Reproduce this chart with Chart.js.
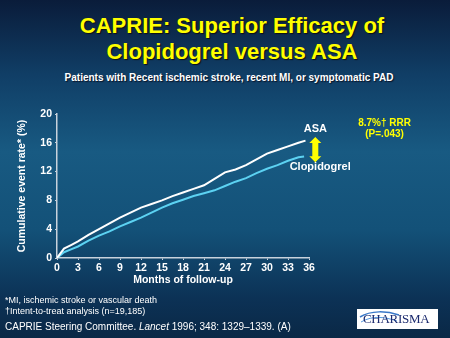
<!DOCTYPE html>
<html>
<head>
<meta charset="utf-8">
<script src="https://cdn.jsdelivr.net/npm/chart.js@4/dist/chart.umd.min.js"></script>
<style>
    html, body { margin: 0; padding: 0; }
    body {
        width: 450px; height: 338px; overflow: hidden; position: relative;
        font-family: "Liberation Sans", Arial, sans-serif;
        background: linear-gradient(to bottom, #0a1c3a 0%, #103e66 22%, #185a82 45%, #135178 68%, #0c3256 88%, #0a2846 100%);
    }
    .t { position: absolute; white-space: nowrap; }
    #title { left: 0; width: 464px; top: 13px; text-align: center; color: #ffff00; font-weight: bold; font-size: 22px; line-height: 26px; text-shadow: 1px 1px 1px #101010; }
    #sub { left: 0; width: 458px; top: 72px; text-align: center; color: #ffffff; font-weight: bold; font-size: 10px; text-shadow: 1px 1px 1px #0a1428; }
    #fn1 { left: 5px; top: 295px; color: #ffffff; font-size: 9px; }
    #fn2 { left: 5px; top: 306px; color: #ffffff; font-size: 9px; }
    #ref { left: 5px; top: 321px; color: #ffffff; font-size: 10px; }
    #logo { left: 357px; top: 309px; width: 81px; height: 20px; background: #ffffff; overflow: hidden; }
    #logo span { position: absolute; left: 6px; top: 2px; font-family: "Liberation Serif", serif; font-size: 13px; color: #1b2a6e; letter-spacing: -0.3px; }
    #chart { position: absolute; left: 0; top: 0; }
</style>
</head>
<body>
<div class="t" id="title">CAPRIE: Superior Efficacy of<br>Clopidogrel versus ASA</div>
<div class="t" id="sub">Patients with Recent ischemic stroke, recent MI, or symptomatic PAD</div>
<canvas id="chart" width="450" height="338"></canvas>
<div class="t" id="fn1">*MI, ischemic stroke or vascular death</div>
<div class="t" id="fn2">†Intent-to-treat analysis (n=19,185)</div>
<div class="t" id="ref">CAPRIE Steering Committee. <i>Lancet</i> 1996; 348: 1329–1339. (A)</div>
<div class="t" id="logo">
    <svg width="81" height="20" style="position:absolute;left:0;top:0">
        <path d="M3 8 C 14 1, 30 2, 42 6" stroke="#3a78c8" stroke-width="1.5" fill="none"/>
        <path d="M4 13 C 16 6, 28 8, 40 12" stroke="#5a9ae0" stroke-width="1" fill="none"/>
    </svg>
    <span>CHARISMA</span>
</div>
<script>
    // months of follow-up
    const asaMonths = [0, 1, 2, 3, 4.5, 6, 7.5, 9, 10.5, 12, 13.5, 15, 16.5, 18, 19.5, 21, 22.5, 24, 25.5, 27, 28.5, 30, 31.5, 33, 34.5, 35.5];
    const asaRate = [0, 1.3, 1.8, 2.3, 3.2, 4.0, 4.8, 5.6, 6.3, 7.0, 7.5, 8.0, 8.6, 9.1, 9.6, 10.1, 11.0, 11.9, 12.3, 12.9, 13.7, 14.5, 15.0, 15.5, 16.0, 16.3];
    const clopMonths = [0, 1, 2, 3, 4.5, 6, 7.5, 9, 10.5, 12, 13.5, 15, 16.5, 18, 19.5, 21, 22.5, 24, 25.5, 27, 28.5, 30, 31.5, 33, 34.5, 35.3];
    const clopRate = [0, 0.8, 1.2, 1.6, 2.4, 3.1, 3.7, 4.4, 5.0, 5.6, 6.3, 7.0, 7.6, 8.1, 8.6, 9.0, 9.4, 10.0, 10.6, 11.1, 11.8, 12.4, 12.9, 13.5, 14.0, 14.1];
    const xTicks = [0, 3, 6, 9, 12, 15, 18, 21, 24, 27, 30, 33, 36];
    const yTicks = [0, 4, 8, 12, 16, 20];

    const toPoints = (xs, ys) => xs.map((x, i) => ({ x: x, y: ys[i] }));

    // labels and the yellow arrow next to the line ends
    const notes = {
        id: 'notes',
        afterDraw(chart) {
            const c = chart.ctx;
            const xs = chart.scales.x, ys = chart.scales.y;
            c.save();
            c.textAlign = 'center';
            c.textBaseline = 'middle';
            c.font = 'bold 11px "Liberation Sans", Arial, sans-serif';
            c.fillStyle = '#ffffff';
            c.fillText('ASA', xs.getPixelForValue(36.9), ys.getPixelForValue(17.9));
            c.fillText('Clopidogrel', xs.getPixelForValue(37.6), ys.getPixelForValue(12.6));

            c.fillStyle = '#ffff00';
            c.font = 'bold 10px "Liberation Sans", Arial, sans-serif';
            c.fillText('8.7%† RRR', xs.getPixelForValue(46.8), ys.getPixelForValue(18.75));
            c.fillText('(P=.043)', xs.getPixelForValue(46.8), ys.getPixelForValue(17.2));

            // double-headed arrow
            const ax = xs.getPixelForValue(36.9);
            const top = ys.getPixelForValue(16.8), bot = ys.getPixelForValue(13.3);
            c.beginPath();
            c.moveTo(ax, top);
            c.lineTo(ax + 6, top + 6);
            c.lineTo(ax + 3, top + 6);
            c.lineTo(ax + 3, bot - 6);
            c.lineTo(ax + 6, bot - 6);
            c.lineTo(ax, bot);
            c.lineTo(ax - 6, bot - 6);
            c.lineTo(ax - 3, bot - 6);
            c.lineTo(ax - 3, top + 6);
            c.lineTo(ax - 6, top + 6);
            c.closePath();
            c.fill();
            c.restore();
        }
    };

    new Chart(document.getElementById('chart'), {
        type: 'line',
        data: {
            datasets: [{
                label: 'ASA',
                data: toPoints(asaMonths, asaRate),
                borderColor: '#ffffff',
                borderWidth: 2,
                pointRadius: 0,
                tension: 0
            }, {
                label: 'Clopidogrel',
                data: toPoints(clopMonths, clopRate),
                borderColor: '#5cd2f2',
                borderWidth: 2,
                pointRadius: 0,
                tension: 0
            }]
        },
        options: {
            responsive: false,
            animation: false,
            layout: { padding: { left: 14, top: 114, right: 141, bottom: 48 } },
            plugins: { legend: { display: false }, tooltip: { enabled: false } },
            scales: {
                x: {
                    type: 'linear', min: 0, max: 36,
                    afterBuildTicks: s => { s.ticks = xTicks.map(v => ({ value: v })); },
                    afterFit: s => { s.height = 32; },
                    border: { color: '#c8d2dc', width: 1.5 },
                    grid: { drawOnChartArea: false, color: '#c8d2dc', tickLength: 2 },
                    ticks: { color: '#ffffff', font: { family: 'Liberation Sans', weight: 'bold', size: 10.5 }, padding: 2, maxRotation: 0 },
                    title: { display: true, text: 'Months of follow-up', color: '#ffffff', font: { family: 'Liberation Sans', weight: 'bold', size: 10.5 }, padding: { top: 3 } }
                },
                y: {
                    min: 0, max: 20,
                    afterBuildTicks: s => { s.ticks = yTicks.map(v => ({ value: v })); },
                    afterFit: s => { s.width = 43; },
                    border: { color: '#c8d2dc', width: 1.5 },
                    grid: { drawOnChartArea: false, color: '#c8d2dc', tickLength: 2 },
                    ticks: { color: '#ffffff', font: { family: 'Liberation Sans', weight: 'bold', size: 10.5 }, padding: 3 },
                    title: { display: true, text: 'Cumulative event rate* (%)', color: '#ffffff', font: { family: 'Liberation Sans', weight: 'bold', size: 10.5 }, padding: 2 }
                }
            }
        },
        plugins: [notes]
    });
</script>
</body>
</html>
